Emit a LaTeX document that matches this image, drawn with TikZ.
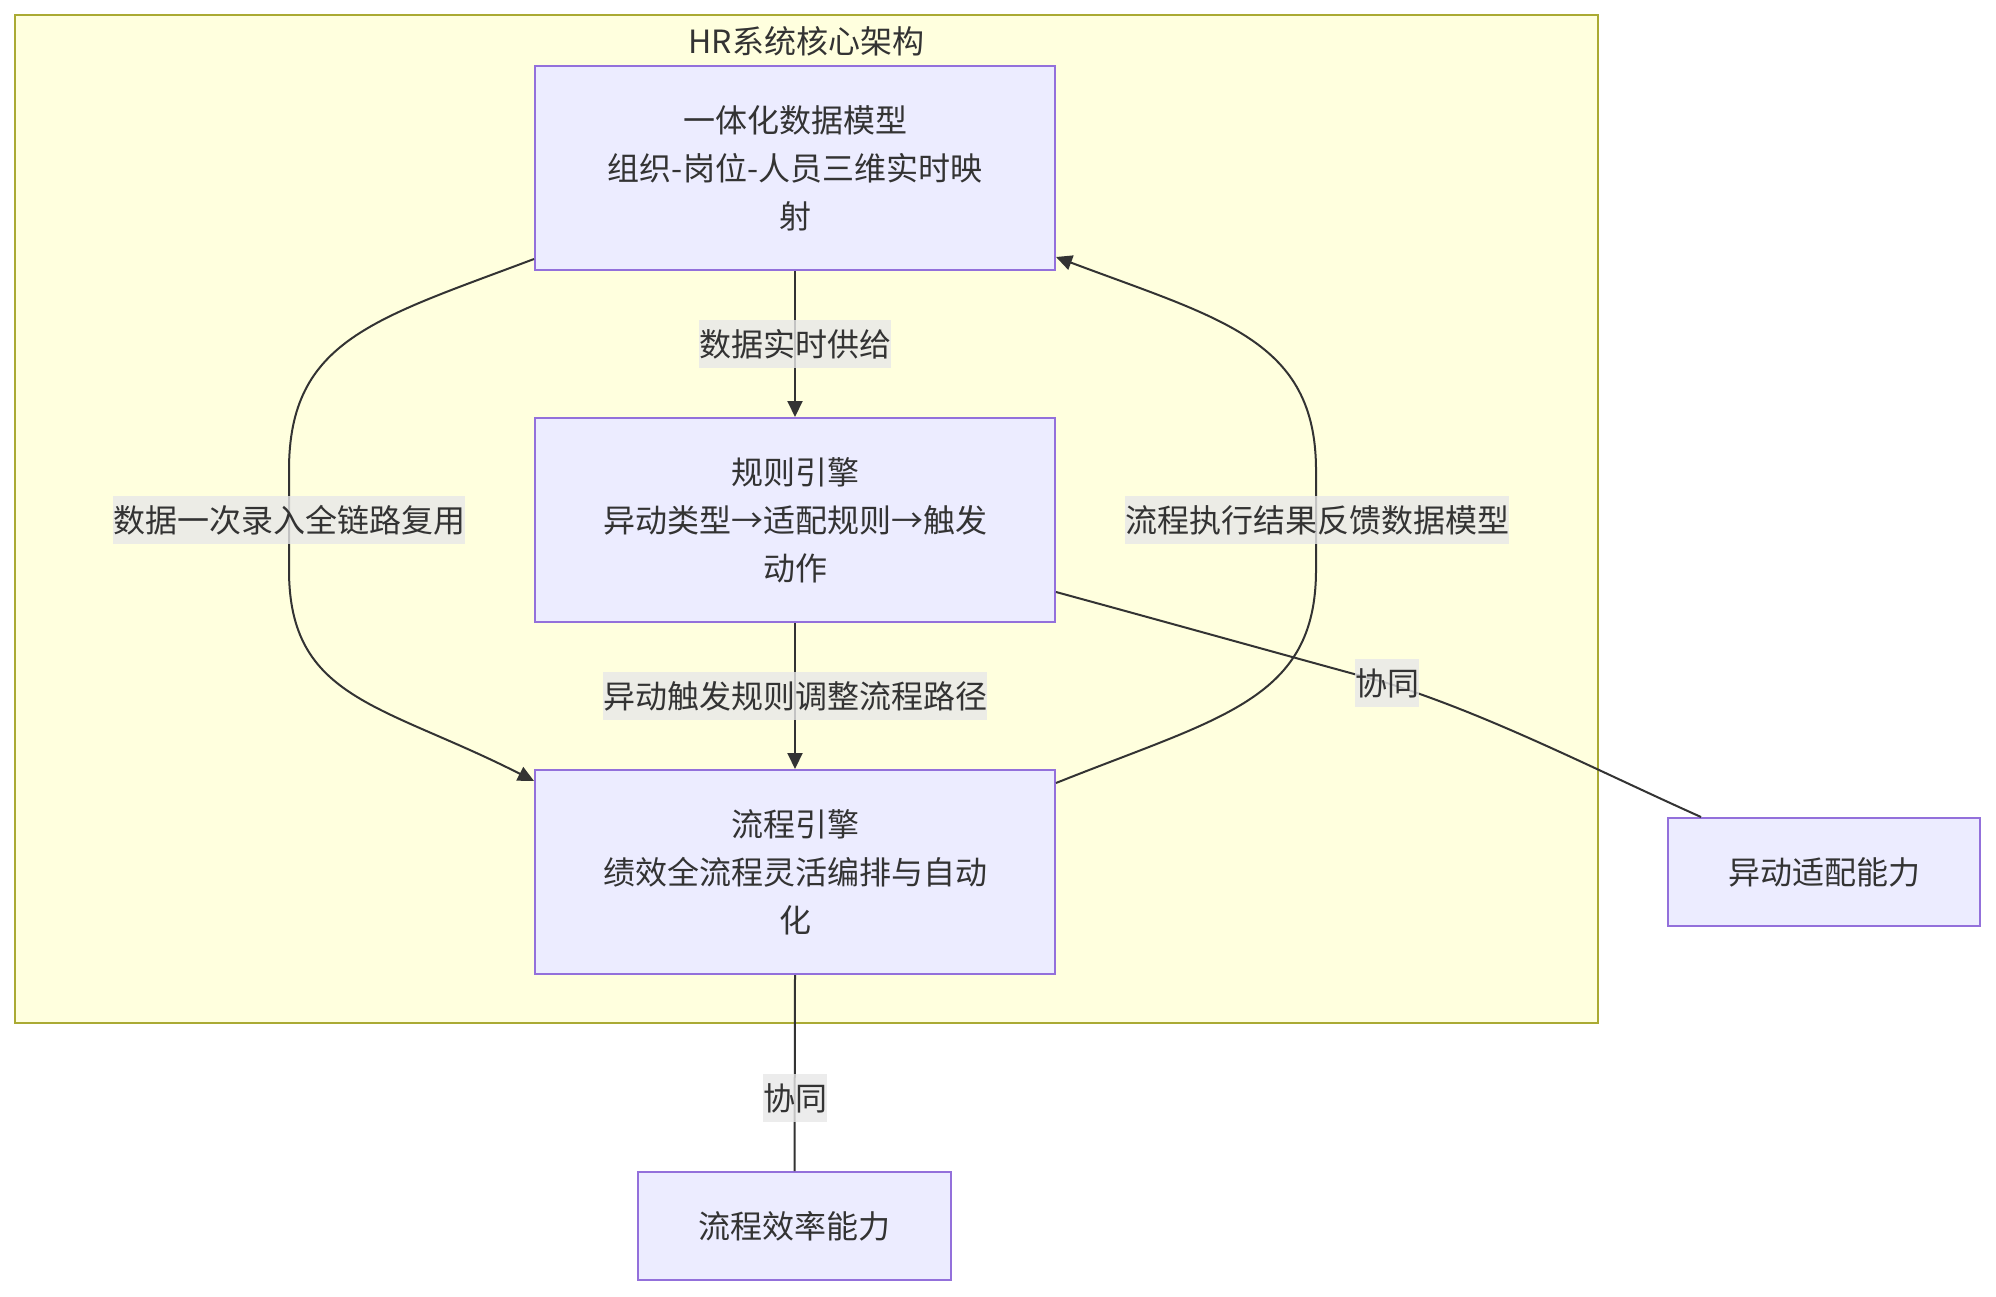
\documentclass[tikz,border=0pt]{standalone}
\usepackage{fontspec}
\setmainfont{Noto Sans CJK SC}
\usetikzlibrary{arrows.meta}
\definecolor{clf}{HTML}{FFFFDE}
\definecolor{clb}{HTML}{AAAA33}
\definecolor{nodef}{HTML}{ECECFF}
\definecolor{nodeb}{HTML}{9370DB}
\definecolor{txt}{HTML}{333333}
\definecolor{edgec}{HTML}{333333}
\definecolor{lblf}{HTML}{E8E8E8}
\newcommand{\ls}{\rule[-6pt]{0pt}{24pt}}
\begin{document}
\begin{tikzpicture}[x=0.5pt,y=-0.5pt,
  box/.style={draw=nodeb, fill=nodef, line width=1pt, text=txt, font=\fontsize{16pt}{24pt}\selectfont, align=center, inner sep=0pt},
  elabel/.style={fill=lblf, fill opacity=0.8, text opacity=1, text=txt, inner sep=0pt, font=\fontsize{16pt}{24pt}\selectfont},
  edge/.style={draw=edgec, line width=1pt},
  arr/.style={-{Triangle[length=8pt,width=7.5pt]}}
]
\useasboundingbox (0,0) rectangle (1996,1296);
\fill[white] (0,0) rectangle (1996,1296);
\node (cl) [draw=clb, fill=clf, line width=1pt, minimum width=791.5pt, minimum height=504pt, inner sep=0pt] at (806.5,519) {};
\node (title) [text=txt, inner sep=0pt, font=\fontsize{16pt}{24pt}\selectfont] at (806.5,41) {\ls HR系统核心架构};

\node (t) [box, minimum width=260pt, minimum height=102pt] at (795,168) {\ls 一体化数据模型\\\ls 组织-岗位-人员三维实时映\\\ls 射};
\node (m) [box, minimum width=260pt, minimum height=102pt] at (795,520) {\ls 规则引擎\\\ls 异动类型→适配规则→触发\\\ls 动作};
\node (b) [box, minimum width=260pt, minimum height=102pt] at (795,872) {\ls 流程引擎\\\ls 绩效全流程灵活编排与自动\\\ls 化};
\node (r) [box, minimum width=156pt, minimum height=54pt] at (1824,872) {\ls 异动适配能力};
\node (c) [box, minimum width=156.5pt, minimum height=54pt] at (794.5,1226) {\ls 流程效率能力};

\draw[edge,arr] (t.south) -- (m.north);
\draw[edge,arr] (m.south) -- (b.north);
\draw[edge] (b.south) -- (c.north);
\draw[edge,arr] ([yshift=-45.5pt]t.west) .. controls +(-159,60) and +(0,-130) .. (289,470) -- (289,570) .. controls +(0,130) and +(-151,-77) .. ([yshift=-6pt]b.north west);
\draw[edge,arr] ([yshift=44.5pt]b.east) .. controls +(165,-66) and +(0,130) .. (1316,570) -- (1316,470) .. controls +(0,-130) and +(165,62) .. ([yshift=-44.5pt]t.east);
\draw[edge] ([yshift=-36pt]m.east) .. controls +(110,30) and +(-110,-30) .. (1387,683) .. controls +(105,33) and +(-105,-47) .. ([xshift=17pt]r.north west);

\node[elabel] (l1) at (289,520) {\ls 数据一次录入全链路复用};
\node[elabel] (l2) at (795,344) {\ls 数据实时供给};
\node[elabel] (l3) at (795,696) {\ls 异动触发规则调整流程路径};
\node[elabel] (l4) at (1317,520) {\ls 流程执行结果反馈数据模型};
\node[elabel] (l5) at (1387,683) {\ls 协同};
\node[elabel] (l6) at (795,1098) {\ls 协同};
\end{tikzpicture}
\end{document}
